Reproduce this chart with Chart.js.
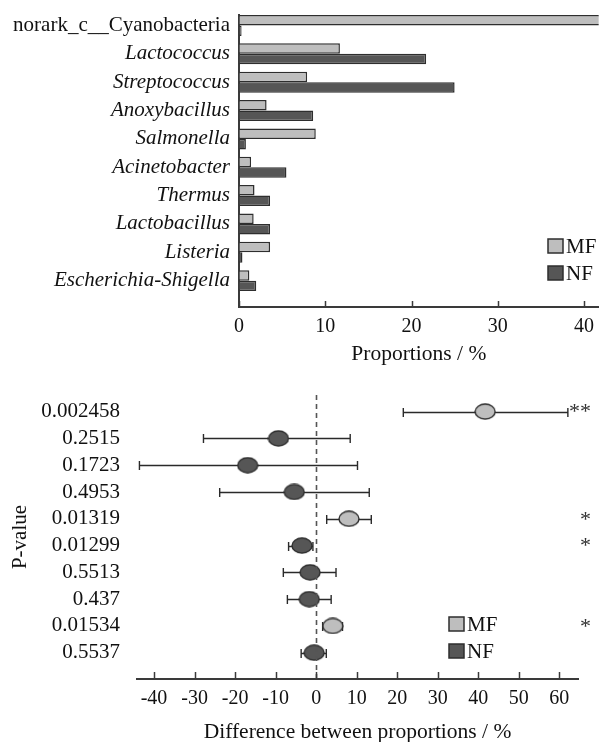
<!DOCTYPE html>
<html><head><meta charset="utf-8">
<script src="https://cdn.jsdelivr.net/npm/chart.js@4.4.1/dist/chart.umd.min.js"></script>
<style>
html,body{margin:0;padding:0;background:#fff;overflow:hidden;width:602px;height:742px}
canvas{display:block}
</style>
</head><body>
<canvas id="topChart" width="602" height="370" style="width:602px;height:370px"></canvas>
<canvas id="bottomChart" width="602" height="376" style="width:602px;height:376px"></canvas>
<script>
// ---------- data ----------
const topCategories = ['norark_c__Cyanobacteria','Lactococcus','Streptococcus','Anoxybacillus','Salmonella','Acinetobacter','Thermus','Lactobacillus','Listeria','Escherichia-Shigella'];
const mfProportions = [45.0, 11.7, 7.9, 3.2, 8.9, 1.4, 1.8, 1.7, 3.6, 1.2];
const nfProportions = [0.3, 21.7, 25.0, 8.6, 0.8, 5.5, 3.6, 3.6, 0.4, 2.0];
const topXTicks = [0, 10, 20, 30, 40];

const pValues = ['0.002458','0.2515','0.1723','0.4953','0.01319','0.01299','0.5513','0.437','0.01534','0.5537'];
const diffGroup = ['MF','NF','NF','NF','MF','NF','NF','NF','MF','NF'];
const diffMean = [41.7, -9.3, -16.9, -5.4, 8.1, -3.5, -1.5, -1.7, 4.1, -0.5];
const ciLow  = [21.5, -27.8, -43.6, -23.8, 2.6, -6.8, -8.1, -7.1, 1.6, -3.7];
const ciHigh = [62.1, 8.4, 10.2, 13.1, 13.6, -0.8, 4.9, 3.7, 6.5, 2.5];
const significance = ['**','','','','*','*','','','*',''];
const bottomXTicks = [-40, -30, -20, -10, 0, 10, 20, 30, 40, 50, 60];

// ---------- styles ----------
const FONT = 'Liberation Serif';
const MF_FILL = '#bebebe', NF_FILL = '#565656', EDGE = '#2e2e2e', AXIS = '#3a3a3a';
Chart.defaults.font.family = FONT;
Chart.defaults.color = '#111';

function ellipseImage(fill) {
  const c = document.createElement('canvas');
  c.width = 22; c.height = 17;
  const g = c.getContext('2d');
  g.beginPath();
  g.ellipse(11, 8.5, 10, 7.5, 0, 0, Math.PI * 2);
  g.fillStyle = fill; g.fill();
  g.lineWidth = 1.4; g.strokeStyle = EDGE; g.stroke();
  return c;
}

// shared decoration plugin: inward ticks + legend
const decor = {
  id: 'decor',
  afterDraw(chart, args, opts) {
    const ctx = chart.ctx, xs = chart.scales.x;
    ctx.save();
    ctx.strokeStyle = AXIS; ctx.lineWidth = 1.5;
    xs.ticks.forEach(t => {
      const px = Math.round(xs.getPixelForValue(t.value)) + 0.5;
      ctx.beginPath(); ctx.moveTo(px, xs.top); ctx.lineTo(px, xs.top - opts.tickLen); ctx.stroke();
    });
    ctx.font = '21px ' + FONT; ctx.textBaseline = 'middle'; ctx.textAlign = 'left';
    chart.data.datasets.forEach((ds, i) => {
      const y = opts.legendY + i * opts.legendGap;
      ctx.fillStyle = ds.legendFill;
      ctx.fillRect(opts.legendX, y - 7, 15, 14);
      ctx.strokeStyle = EDGE; ctx.lineWidth = 1.5;
      ctx.strokeRect(opts.legendX, y - 7, 15, 14);
      ctx.fillStyle = '#111';
      ctx.fillText(ds.label, opts.legendX + 18, y + 1);
    });
    ctx.restore();
  }
};

// ---------- top chart ----------
new Chart(document.getElementById('topChart'), {
  type: 'bar',
  data: {
    datasets: [
      { label: 'MF', data: mfProportions.map((v, i) => ({ x: v, y: i })), backgroundColor: MF_FILL, legendFill: MF_FILL, borderColor: EDGE, borderWidth: 1.5 },
      { label: 'NF', data: nfProportions.map((v, i) => ({ x: v, y: i })), backgroundColor: NF_FILL, legendFill: NF_FILL, borderColor: EDGE, borderWidth: 1.5 }
    ]
  },
  options: {
    indexAxis: 'y', responsive: false, animation: false,
    categoryPercentage: 0.74, barPercentage: 1,
    layout: { padding: { top: 15, right: 0, bottom: 0, left: 0 } },
    plugins: { legend: { display: false }, tooltip: { enabled: false },
      decor: { tickLen: 6, legendX: 548, legendY: 246, legendGap: 27 } },
    scales: {
      x: {
        type: 'linear', min: 0, max: 41.7, offset: false,
        afterBuildTicks: s => { s.ticks = topXTicks.map(v => ({ value: v })); },
        afterFit: s => { s.height = 63; },
        grid: { display: true, drawOnChartArea: false, drawTicks: false },
        border: { display: true, color: AXIS, width: 2 },
        ticks: { padding: 8, font: { size: 20 }, color: '#111', callback: v => String(v), maxRotation: 0 },
        title: { display: true, text: 'Proportions / %', font: { size: 21.5 }, color: '#111', padding: { top: 0, bottom: 3 } }
      },
      y: {
        type: 'linear', reverse: true, min: -0.37, max: 9.93, offset: false,
        afterBuildTicks: s => { s.ticks = topCategories.map((_, i) => ({ value: i })); },
        afterFit: s => { s.width = 239; s.paddingTop = 0; s.paddingBottom = 0; },
        grid: { display: true, drawOnChartArea: false, drawTicks: false },
        border: { display: true, color: AXIS, width: 2 },
        ticks: { padding: 9, color: '#111', callback: v => topCategories[v],
          font: c => ({ family: FONT, size: 21, style: c.index === 0 ? 'normal' : 'italic' }) }
      }
    }
  },
  plugins: [decor]
});

// ---------- bottom chart ----------
const errorBars = {
  id: 'errorBars',
  beforeDatasetsDraw(chart) {
    const ctx = chart.ctx, xs = chart.scales.x, ys = chart.scales.y;
    ctx.save();
    ctx.strokeStyle = '#2a2a2a'; ctx.lineWidth = 1.4;
    diffMean.forEach((m, i) => {
      const y = Math.round(ys.getPixelForValue(i)) + 0.5;
      const a = xs.getPixelForValue(ciLow[i]), b = xs.getPixelForValue(ciHigh[i]);
      ctx.beginPath();
      ctx.moveTo(a, y); ctx.lineTo(b, y);
      ctx.moveTo(a, y - 4.5); ctx.lineTo(a, y + 4.5);
      ctx.moveTo(b, y - 4.5); ctx.lineTo(b, y + 4.5);
      ctx.stroke();
    });
    ctx.restore();
  },
  afterDatasetsDraw(chart) {
    const ctx = chart.ctx, xs = chart.scales.x, ys = chart.scales.y, ca = chart.chartArea;
    ctx.save();
    const x0 = Math.round(xs.getPixelForValue(0)) + 0.5;
    ctx.strokeStyle = '#555'; ctx.lineWidth = 1.6; ctx.setLineDash([5, 4]);
    ctx.beginPath(); ctx.moveTo(x0, ca.top); ctx.lineTo(x0, ca.bottom); ctx.stroke();
    ctx.setLineDash([]);
    ctx.font = '22px ' + FONT; ctx.fillStyle = '#333'; ctx.textAlign = 'right'; ctx.textBaseline = 'middle';
    significance.forEach((s, i) => {
      if (s) ctx.fillText(s, ca.right + 13, ys.getPixelForValue(i) + 1);
    });
    ctx.restore();
  }
};

function groupPoints(g) {
  return diffMean.map((m, i) => ({ x: m, y: i, g: diffGroup[i] })).filter(p => p.g === g);
}

new Chart(document.getElementById('bottomChart'), {
  type: 'scatter',
  data: {
    datasets: [
      { label: 'MF', data: groupPoints('MF'), pointStyle: ellipseImage(MF_FILL), legendFill: MF_FILL, pointRadius: 10 },
      { label: 'NF', data: groupPoints('NF'), pointStyle: ellipseImage(NF_FILL), legendFill: NF_FILL, pointRadius: 10 }
    ]
  },
  options: {
    responsive: false, animation: false,
    layout: { padding: { top: 25, right: 24, bottom: 0, left: 0 } },
    plugins: { legend: { display: false }, tooltip: { enabled: false },
      decor: { tickLen: 7, legendX: 449, legendY: 254, legendGap: 27 } },
    scales: {
      x: {
        type: 'linear', min: -44.2, max: 64.6,
        afterBuildTicks: s => { s.ticks = bottomXTicks.map(v => ({ value: v })); },
        afterFit: s => { s.height = 67; },
        grid: { display: true, drawOnChartArea: false, drawTicks: false },
        border: { display: true, color: AXIS, width: 2 },
        ticks: { padding: 8, font: { size: 20 }, color: '#111', callback: v => String(v), maxRotation: 0 },
        title: { display: true, text: 'Difference between proportions / %', font: { size: 21.5 }, color: '#111', padding: { top: 0, bottom: 1 } }
      },
      y: {
        type: 'linear', reverse: true, min: -0.62, max: 9.98,
        afterBuildTicks: s => { s.ticks = pValues.map((_, i) => ({ value: i })); },
        afterFit: s => { s.width = 137; s.paddingTop = 0; s.paddingBottom = 0; },
        grid: { display: false },
        border: { display: false },
        ticks: { padding: 9, color: '#111', font: { size: 21 }, callback: v => pValues[v] },
        title: { display: true, text: 'P-value', font: { size: 21 }, color: '#111', padding: { top: 8, bottom: 0 } }
      }
    }
  },
  plugins: [errorBars, decor]
});
</script>
</body></html>
